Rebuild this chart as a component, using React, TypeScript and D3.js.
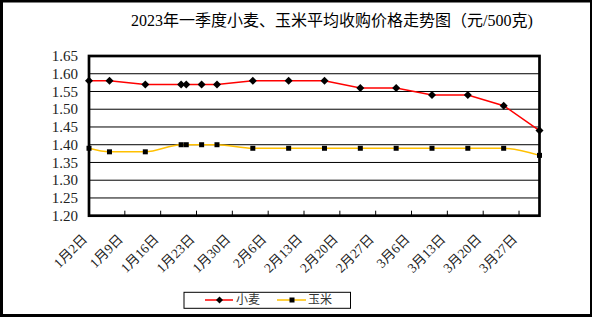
import React from "react";
import * as d3 from "d3";

const dates = [
  "2023-01-02", "2023-01-06", "2023-01-13", "2023-01-20", "2023-01-21", "2023-01-24",
  "2023-01-27", "2023-02-03", "2023-02-10", "2023-02-17", "2023-02-24", "2023-03-03",
  "2023-03-10", "2023-03-17", "2023-03-24", "2023-03-31",
];
const wheat = [1.58, 1.58, 1.57, 1.57, 1.57, 1.57, 1.57, 1.58, 1.58, 1.58, 1.56, 1.56, 1.54, 1.54, 1.51, 1.44];
const corn = [1.39, 1.38, 1.38, 1.40, 1.40, 1.40, 1.40, 1.39, 1.39, 1.39, 1.39, 1.39, 1.39, 1.39, 1.39, 1.37];
const yTicks = [1.2, 1.25, 1.3, 1.35, 1.4, 1.45, 1.5, 1.55, 1.6, 1.65];
const xTickLabels = [
  "1月2日", "1月9日", "1月16日", "1月23日", "1月30日", "2月6日", "2月13日",
  "2月20日", "2月27日", "3月6日", "3月13日", "3月20日", "3月27日",
];
const title = "2023年一季度小麦、玉米平均收购价格走势图（元/500克)";
const seriesNames = ["小麦", "玉米"];

const W = 592;
const H = 319;
const left = 89;
const right = 539.5;
const top = 56;
const bottom = 215.7;

const parse = d3.timeParse("%Y-%m-%d");

export default function App() {
  const dts = dates.map((d) => parse(d) as Date);
  const x = d3.scaleTime().domain([parse("2023-01-02") as Date, parse("2023-03-31") as Date]).range([left, right]);
  const y = d3.scaleLinear().domain([1.2, 1.65]).range([bottom, top]);
  const tickDates = xTickLabels.map((_, i) => d3.timeDay.offset(parse("2023-01-02") as Date, i * 7));

  const wheatPts: [number, number][] = dts.map((d, i) => [x(d), y(wheat[i])]);
  const cornPts: [number, number][] = dts.map((d, i) => [x(d), y(corn[i])]);
  const lineStraight = d3.line();
  const lineSmooth = d3.line().curve(d3.curveMonotoneX);

  const serif = "'Liberation Serif', 'Noto Sans CJK SC', serif";
  const diamond = (cx: number, cy: number, r: number) =>
    `M${cx},${cy - r}L${cx + r},${cy}L${cx},${cy + r}L${cx - r},${cy}Z`;

  return (
    <svg width={W} height={H} style={{ position: "absolute", left: 0, top: 0, background: "#fff" }}>
      <rect x={1.5} y={1} width={590} height={314.5} fill="#fff" stroke="#000" strokeWidth={3} />
      <text x={332} y={26} textAnchor="middle" fontFamily={serif} fontSize={16} fill="#000">
        {title}
      </text>
      {yTicks.map((t) => (
        <line key={t} x1={left} x2={right} y1={y(t)} y2={y(t)} stroke="#000" strokeWidth={1} />
      ))}
      {yTicks.map((t) => (
        <text key={"l" + t} x={78} y={y(t)} dy="0.35em" textAnchor="end" fontFamily={serif} fontSize={15} fill="#222">
          {t.toFixed(2)}
        </text>
      ))}
      {tickDates.slice(1).map((d, i) => (
        <line key={i} x1={x(d)} x2={x(d)} y1={bottom} y2={bottom - 5} stroke="#000" strokeWidth={1} />
      ))}
      {tickDates.map((d, i) => (
        <text
          key={"xt" + i}
          transform={`translate(${x(d) - 1},${240}) rotate(-45)`}
          textAnchor="end"
          fontFamily={serif}
          fontSize={13.5}
          fill="#222"
        >
          {xTickLabels[i]}
        </text>
      ))}
      <rect x={left} y={top} width={right - left} height={bottom - top} fill="none" stroke="#000" strokeWidth={2.7} />
      <path d={lineSmooth(cornPts) || ""} fill="none" stroke="#FFC000" strokeWidth={1.5} />
      <path d={lineStraight(wheatPts) || ""} fill="none" stroke="#FF0000" strokeWidth={1.5} />
      {cornPts.map(([cx, cy], i) => (
        <rect key={"c" + i} x={cx - 2.5} y={cy - 2.5} width={5} height={5} fill="#000" />
      ))}
      {wheatPts.map(([cx, cy], i) => (
        <path key={"w" + i} d={diamond(cx, cy, 4)} fill="#000" />
      ))}
      <rect x={184} y={292.3} width={166.5} height={16} fill="#fff" stroke="#000" strokeWidth={1} />
      <line x1={205} x2={233} y1={300} y2={300} stroke="#FF0000" strokeWidth={1.5} />
      <path d={diamond(219.5, 300, 3.5)} fill="#000" />
      <text x={236} y={300} dy="0.35em" fontFamily={serif} fontSize={12} fill="#333">
        {seriesNames[0]}
      </text>
      <line x1={277} x2={306} y1={300} y2={300} stroke="#FFC000" strokeWidth={1.5} />
      <rect x={289.5} y={297.5} width={5} height={5} fill="#000" />
      <text x={308} y={300} dy="0.35em" fontFamily={serif} fontSize={12} fill="#333">
        {seriesNames[1]}
      </text>
    </svg>
  );
}
